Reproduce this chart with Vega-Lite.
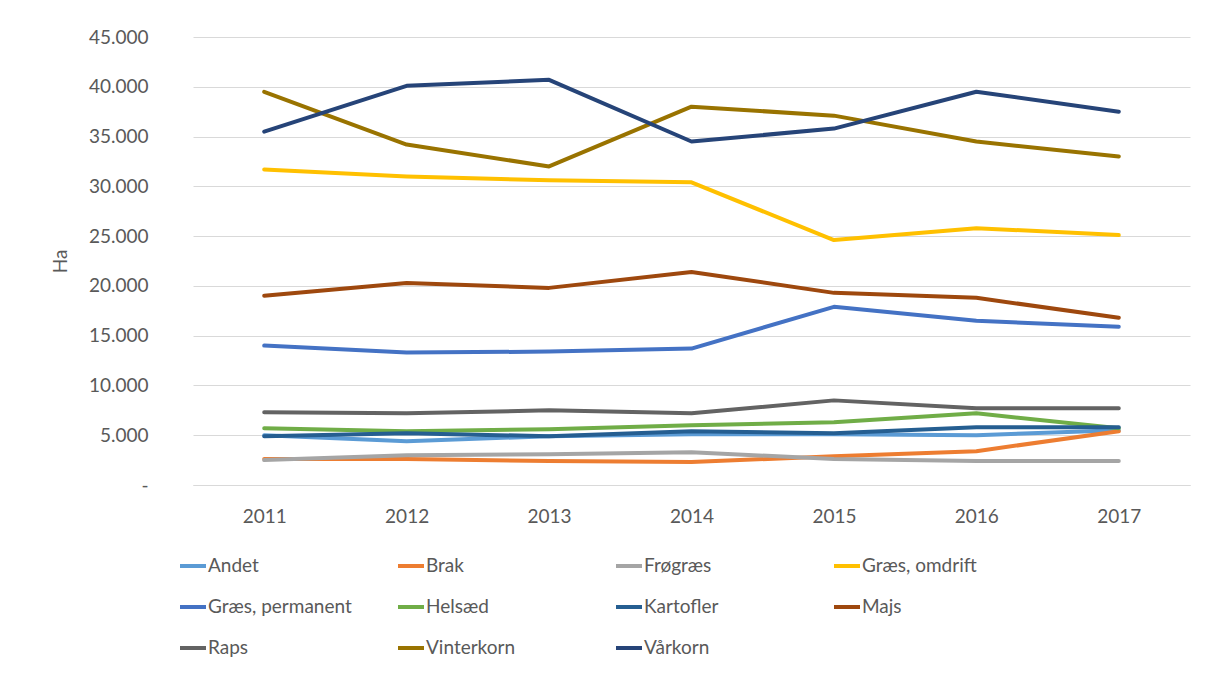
{
  "$schema": "https://vega.github.io/schema/vega-lite/v6.json",
  "autosize": "none",
  "width": 997,
  "height": 448,
  "padding": {"left": 193, "top": 37, "right": 15, "bottom": 192},
  "background": "white",
  "config": {
    "view": {"stroke": null},
    "font": "Lato",
    "axis": {"labelFont": "Lato", "titleFont": "Lato", "labelColor": "#595959", "titleColor": "#595959"},
    "legend": {"labelFont": "Lato"}
  },
  "data": {
    "values": [
      {"year": "2011", "crop": "Andet", "ha": 5000},
      {"year": "2012", "crop": "Andet", "ha": 4400},
      {"year": "2013", "crop": "Andet", "ha": 4900},
      {"year": "2014", "crop": "Andet", "ha": 5100},
      {"year": "2015", "crop": "Andet", "ha": 5100},
      {"year": "2016", "crop": "Andet", "ha": 5000},
      {"year": "2017", "crop": "Andet", "ha": 5500},
      {"year": "2011", "crop": "Brak", "ha": 2600},
      {"year": "2012", "crop": "Brak", "ha": 2600},
      {"year": "2013", "crop": "Brak", "ha": 2400},
      {"year": "2014", "crop": "Brak", "ha": 2300},
      {"year": "2015", "crop": "Brak", "ha": 2900},
      {"year": "2016", "crop": "Brak", "ha": 3400},
      {"year": "2017", "crop": "Brak", "ha": 5400},
      {"year": "2011", "crop": "Frøgræs", "ha": 2500},
      {"year": "2012", "crop": "Frøgræs", "ha": 3000},
      {"year": "2013", "crop": "Frøgræs", "ha": 3100},
      {"year": "2014", "crop": "Frøgræs", "ha": 3300},
      {"year": "2015", "crop": "Frøgræs", "ha": 2600},
      {"year": "2016", "crop": "Frøgræs", "ha": 2400},
      {"year": "2017", "crop": "Frøgræs", "ha": 2400},
      {"year": "2011", "crop": "Græs, omdrift", "ha": 31700},
      {"year": "2012", "crop": "Græs, omdrift", "ha": 31000},
      {"year": "2013", "crop": "Græs, omdrift", "ha": 30600},
      {"year": "2014", "crop": "Græs, omdrift", "ha": 30400},
      {"year": "2015", "crop": "Græs, omdrift", "ha": 24600},
      {"year": "2016", "crop": "Græs, omdrift", "ha": 25800},
      {"year": "2017", "crop": "Græs, omdrift", "ha": 25100},
      {"year": "2011", "crop": "Græs, permanent", "ha": 14000},
      {"year": "2012", "crop": "Græs, permanent", "ha": 13300},
      {"year": "2013", "crop": "Græs, permanent", "ha": 13400},
      {"year": "2014", "crop": "Græs, permanent", "ha": 13700},
      {"year": "2015", "crop": "Græs, permanent", "ha": 17900},
      {"year": "2016", "crop": "Græs, permanent", "ha": 16500},
      {"year": "2017", "crop": "Græs, permanent", "ha": 15900},
      {"year": "2011", "crop": "Helsæd", "ha": 5700},
      {"year": "2012", "crop": "Helsæd", "ha": 5400},
      {"year": "2013", "crop": "Helsæd", "ha": 5600},
      {"year": "2014", "crop": "Helsæd", "ha": 6000},
      {"year": "2015", "crop": "Helsæd", "ha": 6300},
      {"year": "2016", "crop": "Helsæd", "ha": 7200},
      {"year": "2017", "crop": "Helsæd", "ha": 5700},
      {"year": "2011", "crop": "Kartofler", "ha": 4900},
      {"year": "2012", "crop": "Kartofler", "ha": 5200},
      {"year": "2013", "crop": "Kartofler", "ha": 4900},
      {"year": "2014", "crop": "Kartofler", "ha": 5400},
      {"year": "2015", "crop": "Kartofler", "ha": 5200},
      {"year": "2016", "crop": "Kartofler", "ha": 5800},
      {"year": "2017", "crop": "Kartofler", "ha": 5800},
      {"year": "2011", "crop": "Majs", "ha": 19000},
      {"year": "2012", "crop": "Majs", "ha": 20300},
      {"year": "2013", "crop": "Majs", "ha": 19800},
      {"year": "2014", "crop": "Majs", "ha": 21400},
      {"year": "2015", "crop": "Majs", "ha": 19300},
      {"year": "2016", "crop": "Majs", "ha": 18800},
      {"year": "2017", "crop": "Majs", "ha": 16800},
      {"year": "2011", "crop": "Raps", "ha": 7300},
      {"year": "2012", "crop": "Raps", "ha": 7200},
      {"year": "2013", "crop": "Raps", "ha": 7500},
      {"year": "2014", "crop": "Raps", "ha": 7200},
      {"year": "2015", "crop": "Raps", "ha": 8500},
      {"year": "2016", "crop": "Raps", "ha": 7700},
      {"year": "2017", "crop": "Raps", "ha": 7700},
      {"year": "2011", "crop": "Vinterkorn", "ha": 39500},
      {"year": "2012", "crop": "Vinterkorn", "ha": 34200},
      {"year": "2013", "crop": "Vinterkorn", "ha": 32000},
      {"year": "2014", "crop": "Vinterkorn", "ha": 38000},
      {"year": "2015", "crop": "Vinterkorn", "ha": 37100},
      {"year": "2016", "crop": "Vinterkorn", "ha": 34500},
      {"year": "2017", "crop": "Vinterkorn", "ha": 33000},
      {"year": "2011", "crop": "Vårkorn", "ha": 35500},
      {"year": "2012", "crop": "Vårkorn", "ha": 40100},
      {"year": "2013", "crop": "Vårkorn", "ha": 40700},
      {"year": "2014", "crop": "Vårkorn", "ha": 34500},
      {"year": "2015", "crop": "Vårkorn", "ha": 35800},
      {"year": "2016", "crop": "Vårkorn", "ha": 39500},
      {"year": "2017", "crop": "Vårkorn", "ha": 37500}
    ]
  },
  "mark": {"type": "line", "strokeWidth": 4, "strokeCap": "round", "strokeJoin": "round"},
  "encoding": {
    "x": {
      "field": "year", "type": "ordinal",
      "scale": {"type": "point", "padding": 0.5},
      "axis": {"title": null, "labelAngle": 0, "labelFontSize": 19, "labelPadding": 22, "ticks": false, "domain": true, "domainColor": "#d9d9d9", "grid": false}
    },
    "y": {
      "field": "ha", "type": "quantitative",
      "scale": {"domain": [0, 45000], "nice": false},
      "axis": {
        "title": "Ha", "titleFontSize": 19, "titleFontWeight": "normal", "titlePadding": 18,
        "values": [0, 5000, 10000, 15000, 20000, 25000, 30000, 35000, 40000, 45000],
        "labelExpr": "datum.value == 0 ? '-   ' : replace(format(datum.value, ',.0f'), ',', '.')",
        "labelFontSize": 19, "labelPadding": 45, "ticks": false, "domain": false,
        "grid": true, "gridColor": "#d9d9d9", "gridWidth": 1
      }
    },
    "color": {
      "field": "crop", "type": "nominal",
      "scale": {
        "domain": ["Andet", "Brak", "Frøgræs", "Græs, omdrift", "Græs, permanent", "Helsæd", "Kartofler", "Majs", "Raps", "Vinterkorn", "Vårkorn"],
        "range": ["#5B9BD5", "#ED7D31", "#A5A5A5", "#FFC000", "#4472C4", "#70AD47", "#255E91", "#9E480E", "#636363", "#997300", "#264478"]
      },
      "legend": {
        "title": null, "orient": "none", "legendX": -15, "legendY": 514,
        "direction": "horizontal", "columns": 4, "gridAlign": "all", "columnPadding": 38, "rowPadding": 16,
        "symbolType": "stroke", "symbolSize": 676, "symbolStrokeWidth": 4,
        "labelFontSize": 19, "labelColor": "#595959", "labelOffset": 0, "labelLimit": 300
      }
    }
  }
}
